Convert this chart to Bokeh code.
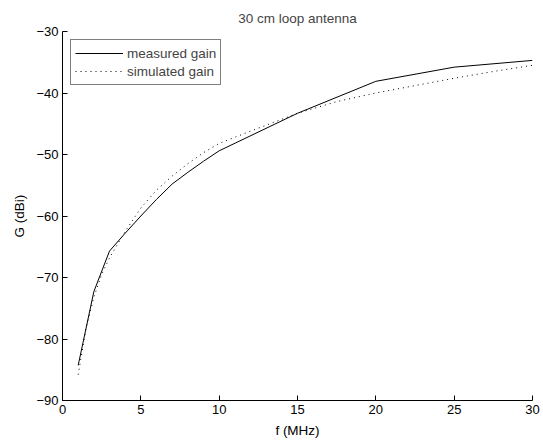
from bokeh.plotting import figure
from bokeh.models import Range1d, FixedTicker, Legend, LegendItem
from bokeh.embed import file_html
from bokeh.resources import INLINE

# Measured gain
meas_f = [1, 2, 3, 4, 5, 6, 7, 8, 9, 10, 15, 20, 25, 30]
meas_g = [-84.3, -72.3, -65.7, -62.8, -60.0, -57.3, -54.8, -52.9, -51.1, -49.4, -43.3, -38.1, -35.8, -34.7]

# Simulated gain
sim_f = [1, 1.5, 2, 2.5, 3, 4, 5, 6, 7, 8, 9, 10, 12, 15, 17.5, 20, 22.5, 25, 27.5, 30]
sim_g = [-85.8, -78.3, -73.2, -69.5, -66.8, -62.5, -58.7, -55.8, -53.5, -51.5, -49.7, -48.2,
         -46.2, -43.3, -41.4, -40.0, -38.8, -37.6, -36.5, -35.5]

x_ticks = [0, 5, 10, 15, 20, 25, 30]
y_ticks = [-90, -80, -70, -60, -50, -40, -30]

FONT = "Liberation Sans"

p = figure(frame_width=470, frame_height=369, output_backend="svg", toolbar_location=None,
           x_range=Range1d(0, 30), y_range=Range1d(-90, -30),
           title="30 cm loop antenna",
           min_border_left=62, min_border_right=11, min_border_top=31, min_border_bottom=40)

p.title.align = "center"
p.title.text_font = FONT
p.title.text_font_size = "13.5px"
p.title.text_font_style = "normal"
p.title.offset = 0
p.title.standoff = 12

p.outline_line_color = None
p.xgrid.visible = False
p.ygrid.visible = False

for ax in (p.xaxis[0], p.yaxis[0]):
    ax.major_tick_in = 5
    ax.major_tick_out = 0
    ax.minor_tick_line_color = None
    ax.axis_line_color = "black"
    ax.major_tick_line_color = "black"
    ax.major_label_text_font = FONT
    ax.major_label_text_font_size = "13px"
    ax.major_label_text_color = "black"
    ax.axis_label_text_font = FONT
    ax.axis_label_text_font_size = "13.5px"
    ax.axis_label_text_font_style = "normal"
    ax.axis_label_text_color = "black"

p.xaxis.ticker = FixedTicker(ticks=x_ticks)
p.yaxis.ticker = FixedTicker(ticks=y_ticks)
p.xaxis.axis_label = "f (MHz)"
p.yaxis.axis_label = "G (dBi)"
p.xaxis.major_label_standoff = 4
p.yaxis.major_label_standoff = 4
p.xaxis.axis_label_standoff = 6
p.yaxis.axis_label_standoff = 6

r1 = p.line(meas_f, meas_g, line_color="black", line_width=1)
r2 = p.line(sim_f, sim_g, line_color="black", line_width=1, line_dash="1 4")

legend = Legend(items=[LegendItem(label="measured gain", renderers=[r1]),
                       LegendItem(label="simulated gain", renderers=[r2])],
                location="top_left")
legend.border_line_color = "black"
legend.border_line_width = 1
legend.background_fill_color = "white"
legend.background_fill_alpha = 1
legend.label_text_font = FONT
legend.label_text_font_size = "13.5px"
legend.glyph_width = 48
legend.glyph_height = 18
legend.label_standoff = 4
legend.label_height = 18
legend.spacing = 0
legend.padding = 4
legend.margin = 8
p.add_layout(legend)

open("out.html", "w").write(file_html(p, INLINE))
